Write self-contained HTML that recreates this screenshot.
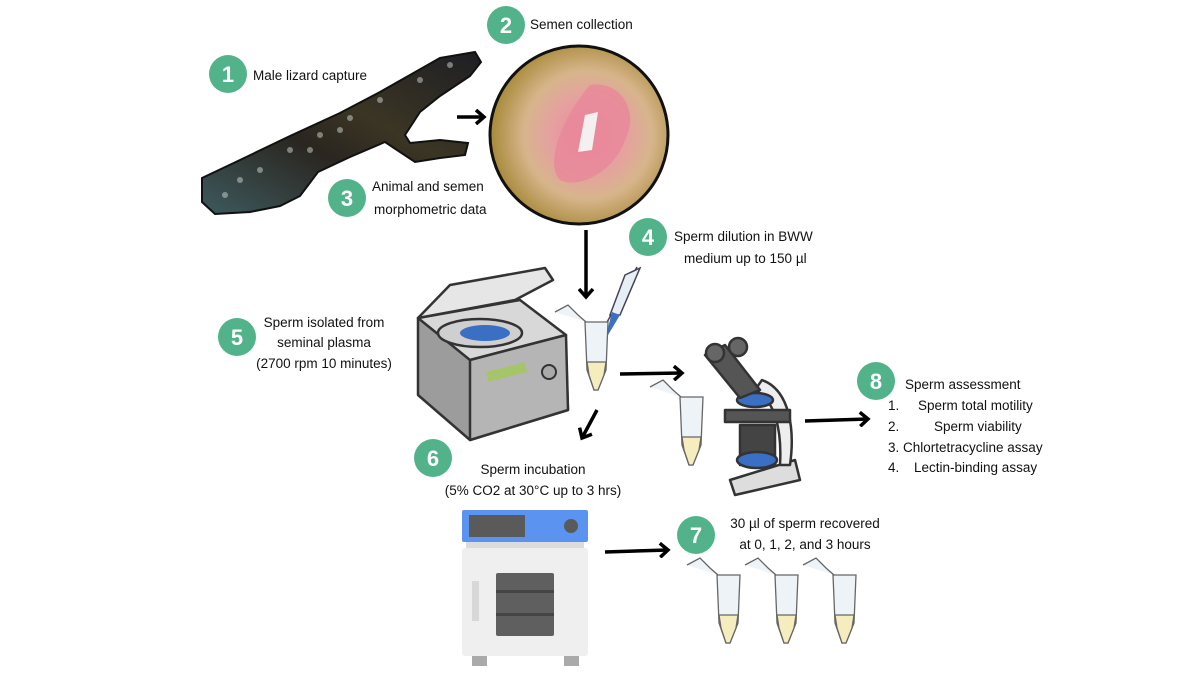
<!DOCTYPE html>
<html><head><meta charset="utf-8"><style>
html,body{margin:0;padding:0;background:#fff;}
svg{display:block;}
text{font-family:"Liberation Sans",sans-serif;font-size:13.5px;fill:#111;}
.n{font-size:22px;fill:#fff;font-weight:bold;text-anchor:middle;}
</style></head><body>
<svg width="1200" height="675" viewBox="0 0 1200 675" xmlns="http://www.w3.org/2000/svg">
<defs>
<marker id="ah" markerWidth="14" markerHeight="16" refX="10" refY="8" orient="auto" markerUnits="userSpaceOnUse">
<path d="M2,1 L10,8 L2,15" fill="none" stroke="#000" stroke-width="3.5"/>
</marker>
<radialGradient id="ph" cx="0.55" cy="0.5" r="0.6">
<stop offset="0" stop-color="#e98a9a"/><stop offset="0.35" stop-color="#e6a0a0"/><stop offset="0.6" stop-color="#d7b58c"/><stop offset="1" stop-color="#9a7e22"/>
</radialGradient>
<linearGradient id="liz" x1="0" y1="1" x2="1" y2="0">
<stop offset="0" stop-color="#3e5a5e"/><stop offset="0.4" stop-color="#2a2620"/><stop offset="0.6" stop-color="#3b3524"/><stop offset="1" stop-color="#1e1e24"/>
</linearGradient>
</defs>

<path d="M202,178 L240,160 L290,136 L340,113 L380,92 L410,75 L440,58 L475,52 L481,62 L470,76 L440,96 L420,112 L405,135 L410,143 L440,140 L468,143 L465,155 L440,158 L415,162 L400,152 L385,142 L350,157 L318,172 L300,196 L280,206 L250,212 L215,214 L202,202 Z" fill="url(#liz)" stroke="#111" stroke-width="2"/>
<g fill="#cfd8d0" opacity="0.5">
<circle cx="240" cy="180" r="3"/><circle cx="260" cy="170" r="3"/><circle cx="290" cy="150" r="3"/><circle cx="320" cy="135" r="3"/><circle cx="350" cy="118" r="3"/><circle cx="380" cy="100" r="3"/><circle cx="420" cy="80" r="3"/><circle cx="450" cy="65" r="3"/><circle cx="225" cy="195" r="3"/><circle cx="310" cy="150" r="3"/><circle cx="340" cy="130" r="3"/>
</g>

<circle cx="579" cy="135" r="89" fill="url(#ph)" stroke="#111" stroke-width="3"/>
<path d="M590,85 C620,80 640,110 625,140 C615,170 580,190 560,180 C545,165 560,120 590,85 Z" fill="#e9879a" opacity="0.8"/>
<path d="M585,115 L598,112 L592,150 L578,152 Z" fill="#f4f0f0"/>

<g fill="#52b38a">
<circle cx="228" cy="74" r="19"/><circle cx="506" cy="25" r="19"/><circle cx="347" cy="198" r="19"/><circle cx="648" cy="237" r="19"/>
<circle cx="237" cy="337" r="19"/><circle cx="433" cy="458" r="19"/><circle cx="696" cy="535" r="19"/><circle cx="876" cy="381" r="19"/>
</g>
<text class="n" x="228" y="82">1</text><text class="n" x="506" y="33">2</text><text class="n" x="347" y="206">3</text><text class="n" x="648" y="245">4</text>
<text class="n" x="237" y="345">5</text><text class="n" x="433" y="466">6</text><text class="n" x="696" y="543">7</text><text class="n" x="876" y="389">8</text>

<text x="253" y="80">Male lizard capture</text>
<text x="530" y="29">Semen collection</text>
<text x="372" y="191">Animal and semen</text>
<text x="374" y="214">morphometric data</text>
<text x="674" y="241">Sperm dilution in BWW</text>
<text x="684" y="263">medium up to 150 µl</text>
<g text-anchor="middle">
<text x="324" y="327">Sperm isolated from</text>
<text x="324" y="347">seminal plasma</text>
<text x="324" y="368">(2700 rpm 10 minutes)</text>
<text x="533" y="474">Sperm incubation</text>
<text x="533" y="495">(5% CO2 at 30°C up to 3 hrs)</text>
<text x="805" y="528">30 µl of sperm recovered</text>
<text x="805" y="549">at 0, 1, 2, and 3 hours</text>
</g>
<text x="905" y="389">Sperm assessment</text>
<text x="888" y="410">1.</text><text x="918" y="410">Sperm total motility</text>
<text x="888" y="431">2.</text><text x="934" y="431">Sperm viability</text>
<text x="888" y="452">3. Chlortetracycline assay</text>
<text x="888" y="472">4.</text><text x="914" y="472">Lectin-binding assay</text>

<g stroke="#000" stroke-width="3.5" fill="none" marker-end="url(#ah)">
<line x1="457" y1="117" x2="484" y2="117"/>
<line x1="586" y1="230" x2="586" y2="297"/>
<line x1="620" y1="374" x2="682" y2="373"/>
<line x1="597" y1="410" x2="582" y2="438"/>
<line x1="605" y1="552" x2="668" y2="550"/>
<line x1="805" y1="421" x2="868" y2="419"/>
</g>

<g stroke="#333" stroke-width="2.5" stroke-linejoin="round">
<path d="M418,318 L418,395 L470,440 L568,410 L566,355 L520,300 Z" fill="#9c9c9c"/>
<path d="M418,318 L470,360 L566,335 L520,300 Z" fill="#d8d8d8"/>
<path d="M470,360 L470,440 L568,410 L566,335 Z" fill="#b5b5b5"/>
<path d="M418,318 L450,285 L545,268 L553,280 L515,300 Z" fill="#e6e6e6"/>
<ellipse cx="480" cy="333" rx="42" ry="14" fill="#cfcfcf"/>
</g>
<ellipse cx="485" cy="333" rx="25" ry="8" fill="#3a6fc4"/>
<rect x="486" y="372" width="40" height="10" fill="#a6c46a" transform="rotate(-14 486 372)"/>
<circle cx="549" cy="372" r="7" fill="#aaa" stroke="#333" stroke-width="2"/>

<line x1="637" y1="267" x2="592" y2="350" stroke="#445" stroke-width="1.5"/>
<path d="M625,275 L640,268 L620,315 L610,315 Z" fill="#e8eef5" stroke="#445" stroke-width="1.5"/>
<path d="M612,312 L620,315 L605,340 Z" fill="#3a6fc4"/>

<g id="tube" stroke="#666" stroke-width="1.3">
<path d="M585,322 L608,322 L606,370 L598,390 L594,390 L587,370 Z" fill="#eef3f8"/>
<path d="M587,362 L606,362 L604,375 L598,390 L594,390 L589,375 Z" fill="#f6edbe"/>
<path d="M555,312 L568,305 L578,315 L586,322" fill="#eef3f8"/>
</g>
<use href="#tube" transform="translate(95,75)"/>
<use href="#tube" transform="translate(132,253)"/>
<use href="#tube" transform="translate(190,253)"/>
<use href="#tube" transform="translate(248,253)"/>

<g stroke="#333" stroke-width="2.5" stroke-linejoin="round">
<path d="M730,480 L795,460 L800,480 L735,495 Z" fill="#ddd"/>
<path d="M762,380 C790,390 795,430 790,465 L780,465 C782,430 775,400 755,390 Z" fill="#eee"/>
<rect x="725" y="410" width="65" height="12" fill="#555"/>
<rect x="740" y="425" width="35" height="40" fill="#444"/>
<ellipse cx="757" cy="460" rx="20" ry="8" fill="#3a6fc4"/>
<ellipse cx="755" cy="400" rx="18" ry="7" fill="#3a6fc4"/>
<path d="M705,355 L725,345 L760,390 L740,398 Z" fill="#555"/>
<circle cx="715" cy="353" r="9" fill="#666"/><circle cx="738" cy="347" r="9" fill="#666"/>
</g>

<rect x="462" y="510" width="126" height="32" rx="2" fill="#5b94f0"/>
<rect x="469" y="515" width="56" height="22" fill="#5a5a5a"/>
<circle cx="571" cy="526" r="7" fill="#5a5a5a"/>
<rect x="466" y="542" width="118" height="7" fill="#dcdcdc"/>
<rect x="462" y="548" width="126" height="108" rx="3" fill="#efefef"/>
<rect x="472" y="581" width="7" height="40" fill="#d8d8d8"/>
<rect x="496" y="573" width="58" height="63" rx="2" fill="#5f5f5f"/>
<rect x="496" y="590" width="58" height="3" fill="#454545"/><rect x="496" y="613" width="58" height="3" fill="#454545"/>
<rect x="472" y="656" width="15" height="10" fill="#aaa"/><rect x="564" y="656" width="15" height="10" fill="#aaa"/>
</svg>
</body></html>
